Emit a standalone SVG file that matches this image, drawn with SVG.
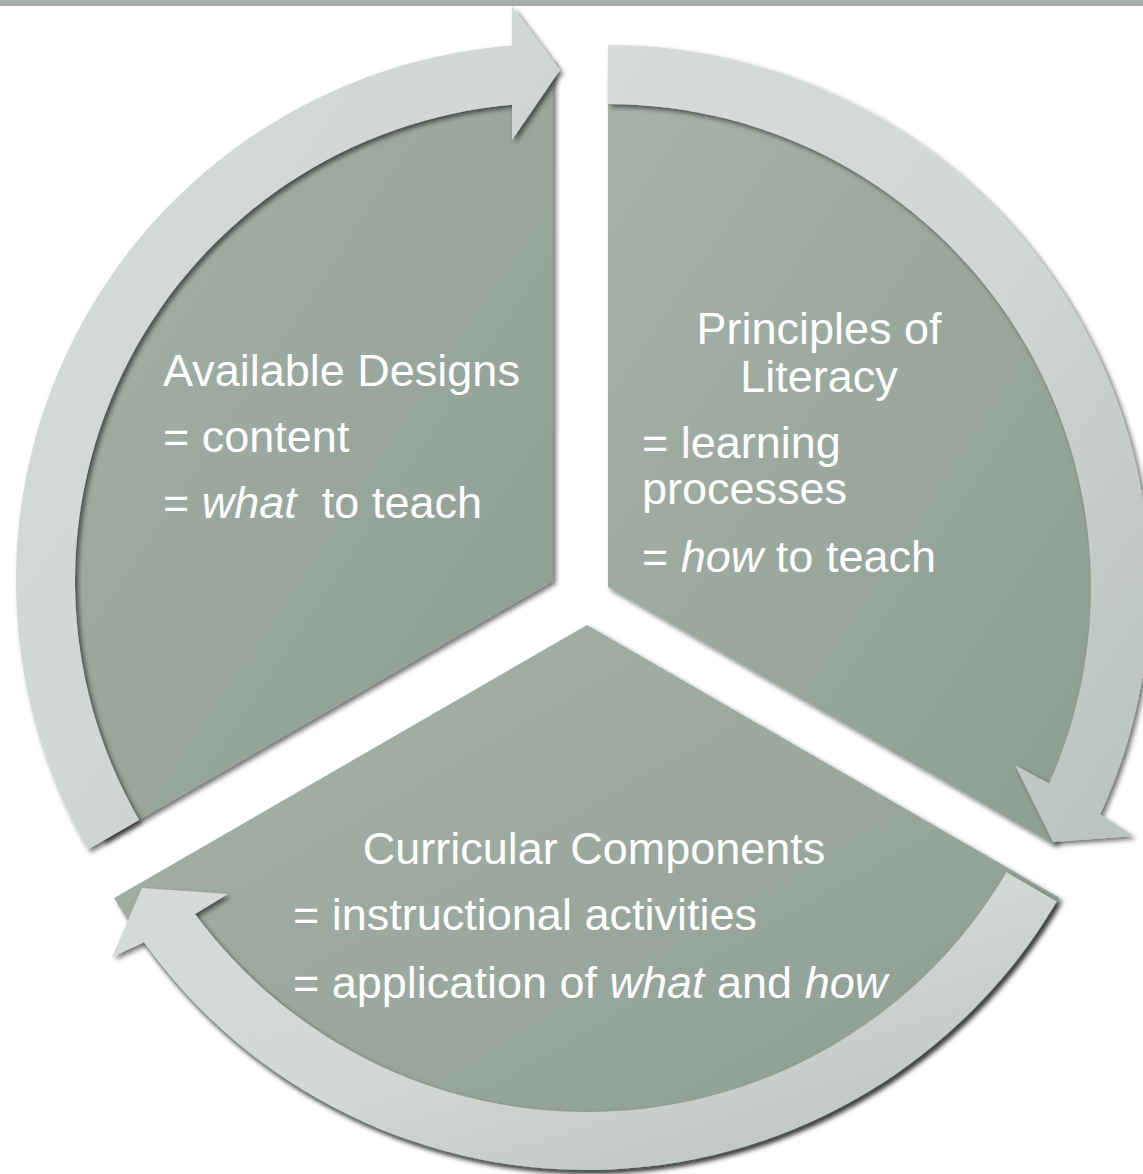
<svg xmlns="http://www.w3.org/2000/svg" width="1143" height="1174" viewBox="0 0 1143 1174">
  <defs>
    <linearGradient id="wedgeFill" x1="0" y1="0" x2="1" y2="1">
      <stop offset="0" stop-color="#A7B2AB"/>
      <stop offset="1" stop-color="#8C9D93"/>
    </linearGradient>
    <linearGradient id="ringFill" x1="0" y1="0" x2="1" y2="1">
      <stop offset="0" stop-color="#D6DBD8"/>
      <stop offset="0.5" stop-color="#D1D7D3"/>
      <stop offset="1" stop-color="#B8C1BC"/>
    </linearGradient>
    <filter id="shadow" x="-10%" y="-10%" width="120%" height="120%">
      <feDropShadow dx="3" dy="3" stdDeviation="2.5" flood-color="#000" flood-opacity="0.55"/>
    </filter>
    <style>
      .wedge { fill: url(#wedgeFill); filter: url(#shadow); }
      .ring { fill: url(#ringFill); filter: url(#shadow); }
      .label { font-family: "Liberation Sans", Arial, sans-serif; font-size: 45px; fill: #FFFFFF; white-space: pre; }
      .it { font-style: italic; }
    </style>
  </defs>

  <rect x="0" y="0" width="1143" height="1174" fill="#FFFFFF"/>

  <g id="node-available-designs">
    <path class="wedge" d="M553,581 L102.7,841 A520,520 0 0 1 553,61 Z"/>
    <text class="label" x="163" y="386">Available Designs</text>
    <text class="label" x="163" y="452">= content</text>
    <text class="label" x="163" y="518" xml:space="preserve">= <tspan class="it">what</tspan>  to teach</text>
  </g>

  <g id="node-principles-of-literacy">
    <path class="wedge" d="M608,587 L608,72 A515,515 0 0 1 1054,844.5 Z"/>
    <text class="label" x="819" y="344" text-anchor="middle">Principles of</text>
    <text class="label" x="819" y="392" text-anchor="middle">Literacy</text>
    <text class="label" x="642" y="458">= learning</text>
    <text class="label" x="642" y="504">processes</text>
    <text class="label" x="642" y="572" xml:space="preserve">= <tspan class="it">how</tspan> to teach</text>
  </g>

  <g id="node-curricular-components">
    <path class="wedge" d="M587,625 L1059.8,898 A546,546 0 0 1 114.2,898 Z"/>
    <text class="label" x="594" y="864" text-anchor="middle">Curricular Components</text>
    <text class="label" x="293" y="930">= instructional activities</text>
    <text class="label" x="293" y="998" xml:space="preserve">= application of <tspan class="it">what</tspan> and <tspan class="it">how</tspan></text>
  </g>

  <g id="connectors">
    <path id="arrow-designs-to-principles" class="ring" d="M87.9,849.5 A537,537 0 0 1 512,45.6 L512,6 L560,70 L512,140 L512,104.8 A478,478 0 0 0 139,820 Z"/>
    <path id="arrow-principles-to-components" class="ring" d="M608,45 A542,542 0 0 1 1100,814.4 L1133,836 L1053,842 L1015,765 L1049.2,783.4 A483,483 0 0 0 608,104 Z"/>
    <path id="arrow-components-to-designs" class="ring" d="M1056.6,901.6 A545,545 0 0 1 143.9,942.2 L112,957 L142,888 L228,894 L195,914 A487,487 0 0 0 1006.6,872.2 Z"/>
  </g>

  <rect x="0" y="0" width="1143" height="6" fill="#A5AFA9"/>
</svg>
